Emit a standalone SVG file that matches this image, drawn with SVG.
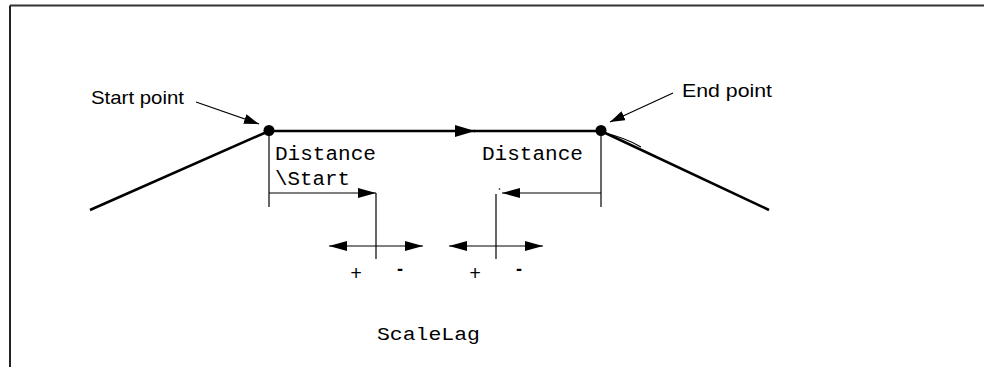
<svg xmlns="http://www.w3.org/2000/svg" width="984" height="367" viewBox="0 0 984 367">
<style>
.thick{stroke:#000;stroke-width:2.5;fill:none}
.thin{stroke:#000;stroke-width:1.2;fill:none}
.sans{font-family:"Liberation Sans",Arial,sans-serif;fill:#000}
.mono{font-family:"Liberation Mono","Courier New",monospace;fill:#000}
</style>
<defs>
<marker id="ahBig" viewBox="0 0 10 10" preserveAspectRatio="none" refX="10" refY="5" markerUnits="userSpaceOnUse" markerWidth="20" markerHeight="12" orient="auto"><path d="M0,0 L10,5 L0,10 z" fill="#000"/></marker>
<marker id="ahDim" viewBox="0 0 10 10" preserveAspectRatio="none" refX="10" refY="5" markerUnits="userSpaceOnUse" markerWidth="18" markerHeight="10" orient="auto-start-reverse"><path d="M0,0 L10,5 L0,10 z" fill="#000"/></marker>
<marker id="ahLbl" viewBox="0 0 10 10" preserveAspectRatio="none" refX="10" refY="5" markerUnits="userSpaceOnUse" markerWidth="15" markerHeight="10" orient="auto"><path d="M0,0 L10,5 L0,10 z" fill="#000"/></marker>
</defs>
<rect width="984" height="367" fill="#fff"/>
<g id="frame">
<line x1="10" y1="5.5" x2="984" y2="5.5" stroke="#333" stroke-width="2"/>
<line x1="10" y1="5.5" x2="10" y2="367" stroke="#222" stroke-width="2"/>
</g>
<g id="connectors">
<line class="thick" x1="90" y1="210" x2="269" y2="131"/>
<path class="thick" d="M269,131 H475" marker-end="url(#ahBig)"/>
<line class="thick" x1="474" y1="131" x2="601" y2="131"/>
<line class="thick" x1="601" y1="131" x2="769" y2="210"/>
<path class="thin" d="M603,132.5 Q626,138 641,147"/>
<line class="thin" x1="196" y1="102" x2="259" y2="124" marker-end="url(#ahLbl)"/>
<line class="thin" x1="673" y1="93" x2="610" y2="122" marker-end="url(#ahLbl)"/>
<line class="thin" x1="269" y1="131" x2="269" y2="207"/>
<path class="thin" d="M269,193 H376" marker-end="url(#ahDim)"/>
<line class="thin" x1="376" y1="193" x2="376" y2="259"/>
<path class="thin" d="M329,246 H423" marker-start="url(#ahDim)" marker-end="url(#ahDim)"/>
<line class="thin" x1="601" y1="131" x2="601" y2="207"/>
<path class="thin" d="M601,193 H502" marker-end="url(#ahDim)"/>
<circle cx="499.5" cy="189" r="0.8" fill="#000"/>
<line class="thin" x1="496" y1="194" x2="496" y2="259"/>
<path class="thin" d="M449,246 H543" marker-start="url(#ahDim)" marker-end="url(#ahDim)"/>
</g>
<g id="start-point">
<circle cx="269" cy="130.5" r="5.5" fill="#000"/>
<text class="sans" x="91" y="104" font-size="19" textLength="93" lengthAdjust="spacingAndGlyphs">Start point</text>
</g>
<g id="end-point">
<circle cx="601" cy="130.5" r="5.5" fill="#000"/>
<text class="sans" x="682" y="97" font-size="19" textLength="90" lengthAdjust="spacingAndGlyphs">End point</text>
</g>
<g id="distance-start">
<text class="mono" x="275" y="159.5" font-size="19.5" textLength="101" lengthAdjust="spacingAndGlyphs">Distance</text>
<text class="mono" x="275" y="185" font-size="19.5" textLength="75" lengthAdjust="spacingAndGlyphs">\Start</text>
</g>
<g id="distance-end">
<text class="mono" x="482" y="159.5" font-size="19.5" textLength="101" lengthAdjust="spacingAndGlyphs">Distance</text>
</g>
<g id="signs">
<text class="mono" x="356" y="280" font-size="19.5" text-anchor="middle">+</text>
<text class="sans" x="400" y="274.5" font-size="18" font-weight="bold" text-anchor="middle">-</text>
<text class="mono" x="475" y="280" font-size="19.5" text-anchor="middle">+</text>
<text class="sans" x="519" y="274.5" font-size="18" font-weight="bold" text-anchor="middle">-</text>
</g>
<g id="scalelag">
<text class="mono" x="377" y="340" font-size="19" textLength="103" lengthAdjust="spacingAndGlyphs">ScaleLag</text>
</g>
</svg>
